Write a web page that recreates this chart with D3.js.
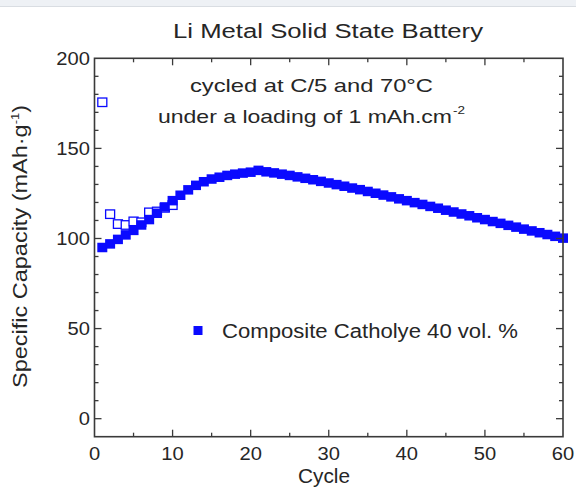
<!DOCTYPE html>
<html>
<head>
<meta charset="utf-8">
<script src="https://cdn.jsdelivr.net/npm/d3@7"></script>
<style>
  html, body { margin: 0; padding: 0; background: #fff; }
  svg { display: block; font-family: "Liberation Sans", Arial, Helvetica, sans-serif; }
  text { fill: #262626; }
</style>
</head>
<body>
<svg id="chart" width="576" height="488"></svg>
<script>
// ---- data ----
const cycles = d3.range(1, 61);
const dischargeCapacity = [
  95.0, 97.0, 99.5, 102.0, 104.5, 107.5, 110.5, 114.0, 117.5, 121.0,
  124.0, 127.0, 129.5, 131.5, 133.0, 134.0, 135.0, 135.7, 136.3, 136.8,
  137.8, 137.0, 136.4, 135.7, 135.0, 134.2, 133.4, 132.6, 131.7, 130.8,
  129.9, 129.0, 128.0, 127.1, 126.1, 125.1, 124.1, 123.1, 122.0, 121.0,
  119.9, 118.9, 117.8, 116.8, 115.7, 114.7, 113.6, 112.6, 111.5, 110.5,
  109.4, 108.4, 107.3, 106.3, 105.2, 104.2, 103.2, 102.2, 101.2, 100.2
];
const chargeCycles = [1, 2, 3, 4, 5, 6, 7, 8, 9, 10];
const chargeCapacity = [175.6, 113.5, 108.0, 107.5, 109.5, 109.0, 114.5, 115.0, 117.0, 118.5];
const xTickLabels = [0, 10, 20, 30, 40, 50, 60];
const yTickLabels = [0, 50, 100, 150, 200];
const titleText = "Li Metal Solid State Battery";
const noteLine1 = "cycled at C/5 and 70\u00B0C";
const noteLine2 = "under a loading of 1 mAh.cm";
const noteLine2Sup = "-2";
const legendLabel = "Composite Catholye 40 vol. %";
const xTitle = "Cycle";
const yTitleMain = "Specific Capacity (mAh\u00B7g";
const yTitleSup = "-1";

// ---- layout ----
const svg = d3.select("#chart");
const blue = "#0a0aff";
const axisColor = "#3a3a3a";

// light browser-like strip at top
svg.append("rect").attr("x", 0).attr("y", 0).attr("width", 576).attr("height", 6).attr("fill", "#eef1f5");
svg.append("line").attr("x1", 0).attr("x2", 576).attr("y1", 6.5).attr("y2", 6.5).attr("stroke", "#d9dde2");

const x = d3.scaleLinear().domain([0, 60]).range([94.5, 563]);
const y = d3.scaleLinear().domain([-10, 200]).range([436.7, 58.3]);
const [x0, x1] = x.range();
const [y0, y1] = y.range();

// ---- data marks ----
const openW = 9, openH = 8.5;
svg.append("g").selectAll("rect").data(chargeCycles.map((c, i) => [c, chargeCapacity[i]]))
  .join("rect")
  .attr("x", d => x(d[0]) - openW / 2)
  .attr("y", d => y(d[1]) - openH / 2)
  .attr("width", openW).attr("height", openH)
  .attr("fill", "#fff").attr("stroke", blue).attr("stroke-width", 1.3);

const fillW = 10, fillH = 9.5;
svg.append("g").selectAll("rect").data(cycles.map((c, i) => [c, dischargeCapacity[i]]))
  .join("rect")
  .attr("x", d => x(d[0]) - fillW / 2)
  .attr("y", d => y(d[1]) - fillH / 2)
  .attr("width", fillW).attr("height", fillH)
  .attr("fill", blue);

// ---- frame & ticks ----
svg.append("rect").attr("x", x0).attr("y", y1).attr("width", x1 - x0).attr("height", y0 - y1)
  .attr("fill", "none").attr("stroke", axisColor).attr("stroke-width", 1.6);

const ticks = svg.append("g").attr("stroke", axisColor).attr("stroke-width", 1.3);
d3.range(5, 60, 5).forEach(v => {
  const len = v % 10 === 0 ? 7 : 4;
  ticks.append("line").attr("x1", x(v)).attr("x2", x(v)).attr("y1", y0).attr("y2", y0 - len);
  ticks.append("line").attr("x1", x(v)).attr("x2", x(v)).attr("y1", y1).attr("y2", y1 + len);
});
d3.range(0, 200, 10).forEach(v => {
  const len = v % 50 === 0 ? 7 : 4;
  ticks.append("line").attr("x1", x0).attr("x2", x0 + len).attr("y1", y(v)).attr("y2", y(v));
  ticks.append("line").attr("x1", x1).attr("x2", x1 - len).attr("y1", y(v)).attr("y2", y(v));
});

// ---- tick labels ----
const tickFont = 18, tickSx = 1.12;
svg.append("g").selectAll("text").data(yTickLabels).join("text")
  .attr("transform", d => `translate(90,${y(d) + 6.4}) scale(${tickSx},1)`)
  .attr("text-anchor", "end").style("font-size", tickFont + "px")
  .text(d => d);
svg.append("g").selectAll("text").data(xTickLabels).join("text")
  .attr("transform", d => `translate(${x(d)},460) scale(${tickSx},1)`)
  .attr("text-anchor", "middle").style("font-size", tickFont + "px")
  .text(d => d);

// ---- texts ----
function fitText(str, xs, yb, len, size) {
  return svg.append("text").attr("x", xs).attr("y", yb)
    .attr("textLength", len).attr("lengthAdjust", "spacingAndGlyphs")
    .style("font-size", size + "px").text(str);
}
fitText(titleText, 173, 38, 310, 20);
fitText(noteLine1, 190, 92, 243, 18.5);
fitText(noteLine2, 158, 123, 294, 18.5);
fitText(noteLine2Sup, 453, 114, 12, 11);

// legend
svg.append("rect").attr("x", 193.5).attr("y", 326).attr("width", 9).attr("height", 9).attr("fill", blue);
fitText(legendLabel, 222, 338, 296, 20);

// x title (kept just inside the bottom edge)
fitText(xTitle, 298, 483, 52, 20);

// y title
const yt = svg.append("g").attr("transform", `translate(27,${(105 + 388) / 2}) rotate(-90)`);
const ytText = yt.append("text").attr("x", -283 / 2).attr("y", 0)
  .attr("textLength", 283).attr("lengthAdjust", "spacingAndGlyphs")
  .style("font-size", "20px");
ytText.append("tspan").text(yTitleMain);
ytText.append("tspan").attr("dy", -8).style("font-size", "11px").text(yTitleSup);
ytText.append("tspan").attr("dy", 8).text(")");
</script>
</body>
</html>
